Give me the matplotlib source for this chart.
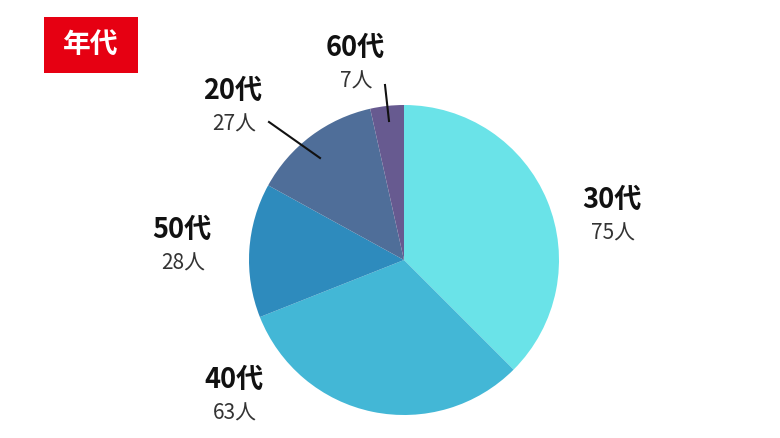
import matplotlib

matplotlib.use("Agg")
import matplotlib.pyplot as plt
from matplotlib.patches import Rectangle

plt.rcParams["font.family"] = ["Noto Sans CJK JP", "DejaVu Sans"]

# data, clockwise from 12 o'clock
ages = ["30代", "40代", "50代", "20代", "60代"]
counts = [75, 63, 28, 27, 7]
colors = ["#6ae3e8", "#43b7d6", "#2e8bbd", "#4f6e99", "#675a90"]

# label placement in pixel coords (x, y from top)
label_pos = {
    "30代": (612, 200),
    "40代": (234, 380),
    "50代": (182, 230),
    "20代": (233, 91),
    "60代": (355, 48),
}
leaders = {
    "20代": ((269, 122), (320, 158)),
    "60代": ((385, 85), (389, 121)),
}

W, H = 780, 438
fig = plt.figure(figsize=(W / 100, H / 100), dpi=100)
ax = fig.add_axes([0, 0, 1, 1])
ax.set_xlim(0, W)
ax.set_ylim(0, H)
ax.set_aspect("equal")
ax.axis("off")

ax.pie(counts, colors=colors, startangle=90, counterclock=False,
       center=(404, H - 260), radius=155, wedgeprops=dict(linewidth=0))
ax.set_xlim(0, W)
ax.set_ylim(0, H)

# title box
ax.add_patch(Rectangle((44, H - 73), 94, 56, color="#e60012", lw=0))
ax.text(91, H - 45, "年代", color="white", fontsize=20, fontweight="bold",
        ha="center", va="center")

for age, n in zip(ages, counts):
    x, y = label_pos[age]
    ax.text(x, H - y, age, fontsize=19.5, fontweight="bold", color="#111111",
            ha="center", va="center")
    ax.text(x + 1, H - y - 34, f"{n}人", fontsize=15, color="#333333",
            ha="center", va="center")

for (x0, y0), (x1, y1) in leaders.values():
    ax.plot([x0, x1], [H - y0, H - y1], color="#111111", lw=1.5)

fig.savefig("out.png", dpi=100)
